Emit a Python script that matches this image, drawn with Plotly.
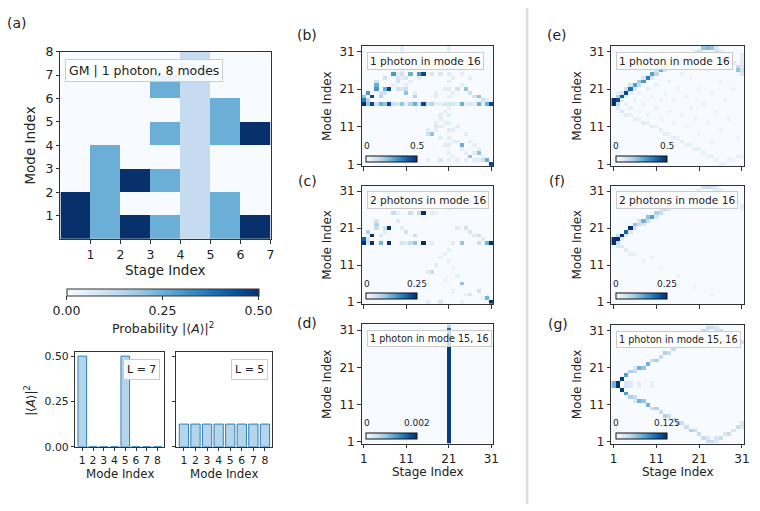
import plotly.graph_objects as go

W, H = 760, 511
FONT = "DejaVu Sans"
INK = "#222222"
AX = "#333333"

BLUES = ['rgb(247,251,255)', 'rgb(222,235,247)', 'rgb(198,219,239)', 'rgb(158,202,225)',
         'rgb(107,174,214)', 'rgb(66,146,198)', 'rgb(33,113,181)', 'rgb(8,81,156)', 'rgb(8,48,107)']

# ---------------- Panel (a) data ----------------
A_STAGES = [1, 2, 3, 4, 5, 6, 7]
A_MODES = [1, 2, 3, 4, 5, 6, 7, 8]
A_PROB_BY_STAGE = [
    [0.5, 0.5, 0, 0, 0, 0, 0, 0],
    [0.25, 0.25, 0.25, 0.25, 0, 0, 0, 0],
    [0.5, 0, 0.5, 0, 0, 0, 0, 0],
    [0.25, 0, 0.25, 0, 0.25, 0, 0.25, 0],
    [0.125, 0.125, 0.125, 0.125, 0.125, 0.125, 0.125, 0.125],
    [0.25, 0.25, 0, 0, 0.25, 0.25, 0, 0],
    [0.5, 0, 0, 0, 0.5, 0, 0, 0],
]
A_CBAR_TICKS = [0, 0.25, 0.5]
A_CBAR_TEXT = ["0.00", "0.25", "0.50"]

BAR_MODES = [1, 2, 3, 4, 5, 6, 7, 8]
BAR_L7 = [0.5, 0, 0, 0, 0.5, 0, 0, 0]
BAR_L5 = [0.125, 0.125, 0.125, 0.125, 0.125, 0.125, 0.125, 0.125]
BAR_TICKS = [0, 0.25, 0.5]
BAR_TICKTEXT = ["0.00", "0.25", "0.50"]

# ---------------- Panels (b)-(g) data: (stage, mode, probability) ----------------
STAGES = list(range(1, 32))
MODES = list(range(1, 33))
GRID_TICKS = [1, 11, 21, 31]

B_CELLS = [
    (1, 17, .5), (1, 18, .35), (1, 19, .2),
    (2, 17, .2), (2, 18, .15), (2, 20, .3),
    (3, 17, .45), (3, 19, .45),
    (4, 17, .1), (4, 21, .3), (4, 22, .25), (4, 23, .1),
    (5, 17, .25), (5, 19, .15), (5, 20, .1),
    (6, 17, .2), (6, 20, .1), (6, 21, .25), (6, 24, .1),
    (7, 17, .45), (7, 21, .45),
    (8, 17, .1), (8, 25, .3), (8, 22, .05),
    (9, 17, .08), (9, 21, .1), (9, 23, .1), (9, 24, .08), (9, 25, .05),
    (10, 17, .2), (10, 21, .08), (10, 25, .1), (10, 24, .05), (10, 26, .05), (10, 30, .05), (10, 31, .05), (10, 32, .05),
    (11, 17, .05), (11, 20, .2), (11, 21, .1), (11, 22, .05), (11, 24, .08),
    (12, 17, .15), (12, 25, .25), (12, 23, .05),
    (13, 17, .25), (13, 19, .15), (13, 20, .05),
    (14, 17, .1), (14, 25, .3), (14, 24, .05),
    (15, 17, .45), (15, 25, .45),
    (16, 17, .1), (16, 2, .05), (16, 9, .1), (16, 10, .05),
    (17, 17, .15), (17, 9, .2), (17, 25, .08),
    (18, 17, .05), (18, 10, .05), (18, 11, .08), (18, 12, .05), (18, 19, .05), (18, 20, .05),
    (19, 17, .05), (19, 25, .08), (19, 11, .05), (19, 13, .05), (19, 14, .05), (19, 2, .08), (19, 8, .05),
    (20, 17, .08), (20, 21, .05), (20, 15, .05), (20, 12, .05), (20, 6, .05),
    (21, 2, .05), (21, 4, .05), (21, 6, .06), (21, 8, .05), (21, 10, .06), (21, 12, .05), (21, 14, .06),
    (21, 16, .05), (21, 17, .08), (21, 19, .05), (21, 21, .06), (21, 23, .05), (21, 25, .06),
    (21, 27, .05), (21, 29, .05), (21, 31, .05), (21, 32, .05),
    (22, 17, .08), (22, 20, .05), (22, 10, .05), (22, 7, .05), (22, 3, .05), (22, 24, .05),
    (23, 17, .05), (23, 21, .1), (23, 7, .05), (23, 2, .05), (23, 11, .05),
    (24, 17, .25), (24, 6, .25), (24, 22, .05), (24, 25, .05), (24, 5, .05),
    (25, 17, .05), (25, 21, .2), (25, 9, .05), (25, 4, .05), (25, 2, .05),
    (26, 17, .08), (26, 20, .1), (26, 3, .2), (26, 24, .05), (26, 7, .05),
    (27, 17, .05), (27, 19, .1), (27, 4, .05), (27, 2, .05), (27, 6, .05),
    (28, 17, .25), (28, 19, .2), (28, 4, .2), (28, 5, .05), (28, 2, .05),
    (29, 17, .05), (29, 18, .1), (29, 2, .1), (29, 3, .05),
    (30, 17, .25), (30, 2, .25), (30, 18, .05),
    (31, 17, .45), (31, 1, .45),
]

C_CELLS = [
    (1, 17, .25), (1, 18, .2),
    (2, 17, .05), (2, 18, .04), (2, 20, .08),
    (3, 17, .25), (3, 19, .25),
    (4, 21, .06), (4, 22, .08), (4, 23, .04),
    (5, 17, .12), (5, 19, .04),
    (6, 21, .05), (6, 20, .03),
    (7, 17, .25), (7, 21, .25),
    (8, 25, .06),
    (9, 23, .03), (9, 25, .02),
    (10, 17, .05), (10, 21, .03),
    (11, 20, .05), (11, 17, .03),
    (12, 25, .06), (12, 17, .06),
    (13, 17, .1), (13, 19, .06),
    (14, 25, .06),
    (15, 17, .25), (15, 25, .25),
    (16, 9, .03), (16, 1, .03),
    (17, 9, .06), (17, 25, .03), (17, 17, .03),
    (18, 11, .03), (18, 25, .02),
    (19, 13, .02), (19, 1, .04),
    (20, 14, .02), (20, 7, .02),
    (21, 15, .02), (21, 12, .02), (21, 26, .02),
    (22, 10, .02), (22, 17, .03), (22, 4, .02),
    (23, 21, .03), (23, 8, .02),
    (24, 17, .1), (24, 6, .1), (24, 1, .02),
    (25, 21, .05), (25, 3, .02),
    (26, 20, .04), (26, 3, .04),
    (27, 19, .03),
    (28, 17, .06), (28, 19, .05), (28, 4, .05),
    (29, 18, .03), (29, 2, .02),
    (30, 17, .12), (30, 2, .12),
    (31, 17, .25), (31, 1, .25),
]

D_STAGE = 21
D_COLUMN_VALUES = [.0019, .0019, .0019, .0019, .0019, .0019, .0019, .0019,
                   .0019, .0019, .0019, .0019, .0019, .0019, .0019, .0019,
                   .0019, .0019, .0019, .0019, .0019, .0019, .0019, .0019,
                   .0019, .0019, .0019, .0019, .0019, .0019, .0015, .0006]

E_CELLS = [
    (1, 17, .5), (1, 18, .5),
    (2, 16, .06), (2, 17, .12), (2, 18, .45), (2, 19, .15), (2, 20, .05),
    (3, 15, .08), (3, 18, .06), (3, 19, .42), (3, 20, .08),
    (4, 14, .05), (4, 17, .04), (4, 19, .05), (4, 20, .45), (4, 21, .1),
    (5, 14, .04), (5, 16, .04), (5, 20, .05), (5, 21, .38), (5, 22, .08),
    (6, 13, .05), (6, 18, .03), (6, 21, .06), (6, 22, .28),
    (7, 13, .04), (7, 15, .03), (7, 20, .04), (7, 22, .12), (7, 23, .18),
    (8, 12, .05), (8, 17, .03), (8, 23, .3), (8, 24, .08),
    (9, 12, .04), (9, 14, .03), (9, 21, .04), (9, 24, .36),
    (10, 11, .05), (10, 19, .03), (10, 24, .08), (10, 25, .28),
    (11, 11, .04), (11, 16, .03), (11, 22, .04), (11, 25, .14), (11, 26, .1),
    (12, 10, .05), (12, 13, .03), (12, 18, .03), (12, 26, .25),
    (13, 9, .05), (13, 20, .03), (13, 26, .08), (13, 27, .15),
    (14, 9, .04), (14, 15, .03), (14, 23, .04), (14, 27, .12),
    (15, 8, .05), (15, 12, .03), (15, 18, .03), (15, 27, .1), (15, 28, .08),
    (16, 8, .04), (16, 21, .03), (16, 28, .12),
    (17, 7, .05), (17, 14, .03), (17, 25, .04), (17, 28, .06), (17, 29, .08),
    (18, 6, .04), (18, 11, .03), (18, 19, .03), (18, 29, .08),
    (19, 6, .04), (19, 16, .03), (19, 24, .03), (19, 30, .1),
    (20, 5, .04), (20, 13, .03), (20, 30, .05), (20, 31, .06),
    (21, 5, .04), (21, 9, .03), (21, 21, .03), (21, 31, .12),
    (22, 4, .04), (22, 17, .03), (22, 31, .05), (22, 32, .2),
    (23, 3, .04), (23, 12, .03), (23, 26, .03), (23, 32, .22),
    (24, 3, .04), (24, 7, .03), (24, 20, .03), (24, 32, .2),
    (25, 2, .04), (25, 15, .03), (25, 31, .1), (25, 32, .08),
    (26, 1, .04), (26, 10, .03), (26, 23, .03), (26, 31, .06),
    (27, 1, .04), (27, 18, .03), (27, 30, .08),
    (28, 2, .04), (28, 13, .03), (28, 29, .1), (28, 30, .05),
    (29, 2, .03), (29, 21, .03), (29, 28, .06),
    (30, 3, .04), (30, 8, .03), (30, 26, .2), (30, 27, .12),
    (31, 3, .03), (31, 25, .08), (31, 26, .1), (31, 27, .06), (31, 28, .06), (31, 29, .05), (31, 30, .05),
]

F_CELLS = [
    (1, 17, .25), (1, 18, .25),
    (2, 16, .04), (2, 17, .06), (2, 18, .25), (2, 19, .06),
    (3, 16, .04), (3, 18, .03), (3, 19, .25),
    (4, 15, .03), (4, 19, .04), (4, 20, .2),
    (5, 14, .02), (5, 20, .04), (5, 21, .25),
    (6, 14, .02), (6, 21, .05), (6, 22, .1),
    (7, 22, .06), (7, 23, .04),
    (8, 12, .015), (8, 22, .04), (8, 23, .12),
    (9, 23, .06), (9, 24, .1),
    (10, 13, .02), (10, 24, .14),
    (11, 24, .04), (11, 25, .08),
    (12, 10, .015), (12, 25, .06), (12, 26, .04),
    (13, 26, .06),
    (14, 26, .04), (14, 27, .04),
    (15, 27, .04),
    (16, 8, .012), (16, 27, .03), (16, 28, .03),
    (17, 28, .04),
    (18, 28, .03), (18, 29, .03),
    (19, 29, .03),
    (20, 5, .012), (20, 30, .03),
    (21, 31, .03),
    (22, 32, .05),
    (23, 32, .06),
    (24, 3, .012), (24, 32, .05),
    (25, 31, .03), (25, 32, .03),
    (26, 31, .02),
    (28, 30, .02),
    (30, 28, .02),
    (31, 26, .02), (31, 27, .03),
]

G_CELLS = [
    (1, 16, .06), (1, 17, .06),
    (2, 16, .125), (2, 17, .125),
    (3, 15, .12), (3, 18, .12),
    (4, 14, .07), (4, 16, .02), (4, 17, .02), (4, 19, .07),
    (5, 13, .04), (5, 16, .015), (5, 17, .015), (5, 20, .04),
    (6, 12, .02), (6, 13, .03), (6, 20, .03), (6, 21, .02),
    (7, 12, .06), (7, 16, .012), (7, 17, .012), (7, 21, .06),
    (8, 12, .05), (8, 21, .05),
    (9, 11, .06), (9, 22, .06),
    (10, 10, .03), (10, 16, .01), (10, 17, .01), (10, 23, .03),
    (11, 10, .04), (11, 23, .04),
    (12, 9, .03), (12, 24, .03),
    (13, 8, .04), (13, 25, .04),
    (14, 8, .03), (14, 25, .03),
    (15, 7, .03), (15, 26, .03),
    (16, 6, .04), (16, 27, .04),
    (17, 6, .03), (17, 27, .03),
    (18, 5, .03), (18, 28, .03),
    (19, 4, .04), (19, 29, .04),
    (20, 4, .03), (20, 29, .03),
    (21, 3, .03), (21, 30, .03),
    (22, 2, .03), (22, 31, .03),
    (23, 1, .03), (23, 2, .02), (23, 31, .02), (23, 32, .03),
    (24, 1, .03), (24, 32, .03),
    (25, 1, .02), (25, 2, .02), (25, 31, .02), (25, 32, .02),
    (26, 2, .03), (26, 31, .03),
    (27, 3, .02), (27, 30, .02),
    (28, 3, .03), (28, 30, .03),
    (29, 4, .02), (29, 29, .02),
    (30, 5, .03), (30, 28, .03),
    (31, 5, .02), (31, 6, .02), (31, 28, .02),
]

PANELS = [
    # name, cells, zmax, cbar labels, legend text
    ("b", B_CELLS, 0.5, "0.5", "1 photon in mode 16"),
    ("c", C_CELLS, 0.25, "0.25", "2 photons in mode 16"),
    ("d", None, 0.002, "0.002", "1 photon in mode 15, 16"),
    ("e", E_CELLS, 0.5, "0.5", "1 photon in mode 16"),
    ("f", F_CELLS, 0.25, "0.25", "2 photons in mode 16"),
    ("g", G_CELLS, 0.125, "0.125", "1 photon in mode 15, 16"),
]

# ---------------- layout geometry (pixels) ----------------
def px(x):
    return x / W


def py(y):
    return 1 - y / H


BOXES = {
    "a": (59, 271, 45, 238),
    "barL": (74, 164, 354, 452),
    "barR": (176, 273, 354, 452),
    "b": (363, 496, 39, 163),
    "c": (363, 496, 183, 305),
    "d": (363, 496, 326, 449),
    "e": (615, 749, 39, 163),
    "f": (615, 749, 183, 305),
    "g": (615, 749, 327, 449),
}
ORDER = ["a", "barL", "barR", "b", "c", "d", "e", "f", "g"]

fig = go.Figure()
layout = dict(width=W, height=H, margin=dict(l=0, r=0, t=0, b=0),
              paper_bgcolor="white", plot_bgcolor="white", showlegend=False,
              font=dict(family=FONT, color=INK))
annotations = []


def ann(text, x, y, size, rot=0, xanchor="center", yanchor="middle", **kw):
    annotations.append(dict(text=text, x=px(x), y=py(y), xref="paper", yref="paper",
                            showarrow=False, font=dict(family=FONT, size=size, color=INK),
                            textangle=rot, xanchor=xanchor, yanchor=yanchor, **kw))


def axis_common(dom, size, **kw):
    d = dict(domain=dom, showgrid=False, zeroline=False, showline=True, mirror=True,
             linecolor=AX, linewidth=1, ticks="outside", ticklen=3.5, tickwidth=1,
             tickcolor=AX, tickfont=dict(family=FONT, size=size, color=INK))
    d.update(kw)
    return d


for i, key in enumerate(ORDER):
    n = "" if i == 0 else str(i + 1)
    x0, x1, y0, y1 = BOXES[key]
    layout["xaxis" + n] = dict(anchor="y" + n)
    layout["yaxis" + n] = dict(anchor="x" + n)
    BOXES[key] = (x0, x1, y0, y1, n)

# ---- panel (a) heatmap ----
x0, x1, y0, y1, n = BOXES["a"]
za = [[A_PROB_BY_STAGE[s][m] for s in range(len(A_STAGES))] for m in range(len(A_MODES))]
fig.add_trace(go.Heatmap(
    z=za, x=[s - 0.5 for s in A_STAGES], y=[m - 0.5 for m in A_MODES],
    zmin=0, zmax=0.5, colorscale=BLUES, hoverinfo="skip", xaxis="x", yaxis="y",
    colorbar=dict(orientation="h", x=px(162), xanchor="center", y=py(290), yanchor="top",
                  len=192, lenmode="pixels", thickness=7, xpad=0, ypad=0,
                  outlinecolor=AX, outlinewidth=1, tickvals=A_CBAR_TICKS, ticktext=A_CBAR_TEXT,
                  ticks="outside", ticklen=3.5, tickcolor=AX,
                  tickfont=dict(family=FONT, size=12.5, color=INK))))
layout["xaxis"] = axis_common([px(x0), px(x1)], 12.5, anchor="y", range=[0, 7],
                              tickvals=A_STAGES)
layout["yaxis"] = axis_common([py(y1), py(y0)], 12.5, anchor="x", range=[0, 8],
                              tickvals=A_MODES)
ann("Mode Index", 28, 142, 13.5, rot=-90)
ann("Stage Index", 165, 270, 13.5)
ann("Probability |⟨<i>A</i>⟩|<sup>2</sup>", 162, 330, 12.5)
ann("GM | 1 photon, 8 modes", 64, 53, 12.5, xanchor="left", yanchor="top",
    bgcolor="rgba(255,255,255,0.85)", bordercolor="#cccccc", borderwidth=1, borderpad=3)

# ---- bar panels ----
for key, vals, label in [("barL", BAR_L7, "L = 7"), ("barR", BAR_L5, "L = 5")]:
    x0, x1, y0, y1, n = BOXES[key]
    fig.add_trace(go.Bar(x=BAR_MODES, y=vals, width=0.8, xaxis="x" + n, yaxis="y" + n,
                         marker=dict(color="rgba(107,174,214,0.5)",
                                     line=dict(color="#2f7dbb", width=1)),
                         hoverinfo="skip"))
    layout["xaxis" + n] = axis_common([px(x0), px(x1)], 10.8, anchor="y" + n,
                                      range=[0.35, 8.65], tickvals=BAR_MODES)
    layout["yaxis" + n] = axis_common([py(y1), py(y0)], 10.8, anchor="x" + n,
                                      range=[0, 0.525], tickvals=BAR_TICKS,
                                      ticktext=BAR_TICKTEXT,
                                      showticklabels=(key == "barL"))
    ann("Mode Index", (x0 + x1) / 2, 480, 11.8)
    ann(label, x1 - 5, 362, 11, xanchor="right", yanchor="top",
        bgcolor="rgba(255,255,255,0.85)", bordercolor="#cccccc", borderwidth=1, borderpad=3)
ann("|⟨<i>A</i>⟩|<sup>2</sup>", 28, 405, 11.8, rot=-90)

# ---- grid panels (b)-(g) ----
LETTER_POS = {"b": (308, 28), "c": (308, 178), "d": (308, 325),
              "e": (560, 28), "f": (560, 178), "g": (561, 326)}
for name, cells, zmax, cbtxt, legend in PANELS:
    x0, x1, y0, y1, n = BOXES[name]
    z = [[0.0] * len(STAGES) for _ in MODES]
    if cells is None:
        for m, v in zip(MODES, D_COLUMN_VALUES):
            z[m - 1][D_STAGE - 1] = v
    else:
        for s, m, v in cells:
            z[m - 1][s - 1] = v
    cb_x0, cb_x1 = x0 + 5, x0 + 56
    cb_top = y1 - 11
    fig.add_trace(go.Heatmap(
        z=z, x=STAGES, y=MODES, zmin=0, zmax=zmax, colorscale=BLUES, hoverinfo="skip",
        xaxis="x" + n, yaxis="y" + n,
        colorbar=dict(orientation="h", x=px((cb_x0 + cb_x1) / 2), xanchor="center",
                      y=py(cb_top), yanchor="top", len=cb_x1 - cb_x0, lenmode="pixels",
                      thickness=6, xpad=0, ypad=0, outlinecolor="#111111", outlinewidth=1,
                      showticklabels=False, ticks="")))
    bottom = name in ("d", "g")
    layout["xaxis" + n] = axis_common([px(x0), px(x1)], 12, anchor="y" + n,
                                      range=[0.5, 31.5], tickvals=GRID_TICKS,
                                      showticklabels=bottom)
    layout["yaxis" + n] = axis_common([py(y1), py(y0)], 12, anchor="x" + n,
                                      range=[0.5, 32.5], tickvals=GRID_TICKS)
    ann("0", cb_x0, cb_top - 10, 9)
    ann(cbtxt, cb_x1, cb_top - 10, 9)
    small = len(legend) > 21
    ann(legend, x0 + 5, y0 + 6, 9.6 if small else 10.6, xanchor="left", yanchor="top",
        bgcolor="rgba(255,255,255,0.8)", bordercolor="#cccccc", borderwidth=1, borderpad=2)
    ann("Mode Index", x0 - 35, (y0 + y1) / 2, 12, rot=-90)
    if bottom:
        ann("Stage Index", (x0 + x1) / 2, 478, 12)
    lx, ly = LETTER_POS[name]
    ann("(" + name + ")", lx, ly, 14)

ann("(a)", 15, 15, 14)

layout["annotations"] = annotations
layout["shapes"] = [dict(type="line", xref="paper", yref="paper", x0=px(530), x1=px(530),
                         y0=0, y1=1, line=dict(color="#dddddd", width=2.5))]
fig.update_layout(**layout)
fig.write_html("out.html")
